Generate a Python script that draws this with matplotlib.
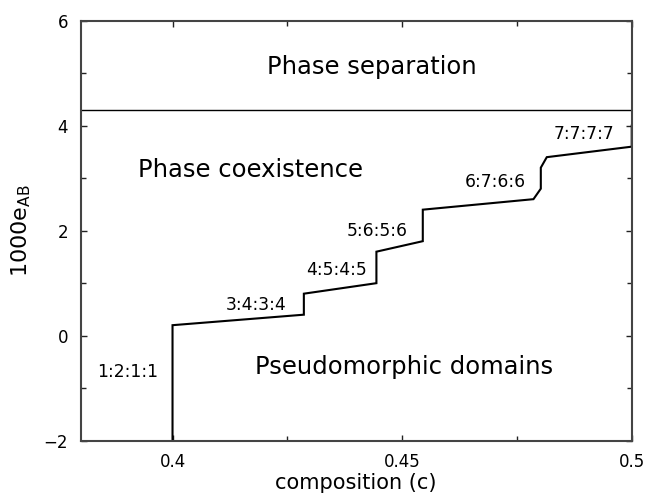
import matplotlib
matplotlib.use("Agg")
import matplotlib.pyplot as plt
from matplotlib.ticker import MultipleLocator

plt.rcParams['font.family'] = ['DejaVu Sans']
plt.rcParams['mathtext.fontset'] = 'dejavusans'

# staircase boundary between pseudomorphic domains and coexistence
comp = [0.4, 0.4, 0.4286, 0.4286, 0.4444, 0.4444, 0.4545, 0.4545,
        0.4786, 0.4802, 0.4802, 0.4815, 0.5, 0.5]
e_ab = [-2.0, 0.2, 0.4, 0.8, 1.0, 1.6, 1.8, 2.4,
        2.6, 2.8, 3.2, 3.4, 3.6, 4.0]
separation_level = 4.3

ratio_labels = ["1:2:1:1", "3:4:3:4", "4:5:4:5", "5:6:5:6", "6:7:6:6", "7:7:7:7"]
ratio_x = [0.3903, 0.4181, 0.4356, 0.4446, 0.4702, 0.4896]
ratio_y = [-0.78, 0.49, 1.156, 1.90, 2.827, 3.741]

region_labels = ["Phase separation", "Phase coexistence", "Pseudomorphic domains"]
region_x = [0.4435, 0.4169, 0.4505]
region_y = [4.99, 3.03, -0.73]

fig = plt.figure(figsize=(6.47, 4.94), dpi=100)
ax = fig.add_axes([0.1247, 0.1079, 0.8517, 0.8503])

ax.plot(comp, e_ab, color='black', lw=1.5, solid_joinstyle='miter')
ax.axhline(separation_level, color='black', lw=1.0)

for t, x, y in zip(ratio_labels, ratio_x, ratio_y):
    ax.text(x, y, t, ha='center', va='baseline', fontsize=12.3)
for t, x, y in zip(region_labels, region_x, region_y):
    ax.text(x, y, t, ha='center', va='baseline', fontsize=17.5)

ax.set_xlim(0.38, 0.5)
ax.set_ylim(-2, 6)
ax.set_xticks([0.4, 0.45, 0.5])
ax.set_xticklabels(["0.4", "0.45", "0.5"])
ax.set_yticks([-2, 0, 2, 4, 6])
ax.set_yticklabels(["\u22122", "0", "2", "4", "6"])
ax.xaxis.set_minor_locator(MultipleLocator(0.025))
ax.yaxis.set_minor_locator(MultipleLocator(1))
ax.tick_params(which='both', direction='in', top=True, right=True, labelsize=12, width=1, color='#222222')
ax.tick_params(which='major', length=4, pad=9)
ax.tick_params(which='minor', length=3.5)
for s in ax.spines.values():
    s.set_linewidth(1.5)
    s.set_color('#444444')

ax.set_xlabel("composition (c)", fontsize=15, labelpad=1)
ax.set_ylabel("1000e$_{\\mathrm{AB}}$", fontsize=16, labelpad=8)

fig.savefig("out.png", dpi=100)
